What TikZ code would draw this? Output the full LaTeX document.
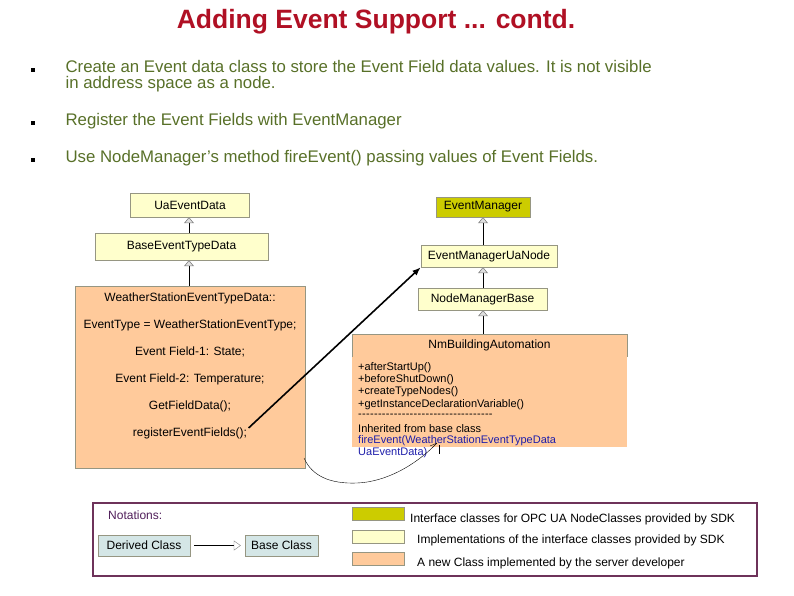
\documentclass[tikz,border=0pt]{standalone}
\usepackage{fontspec}
\setmainfont{Liberation Sans}
\usetikzlibrary{arrows.meta, positioning}
\definecolor{titlered}{RGB}{176,16,36}
\definecolor{bullettext}{RGB}{88,112,40}
\definecolor{sdkcolor}{RGB}{204,204,0}
\definecolor{implcolor}{RGB}{255,255,204}
\definecolor{devcolor}{RGB}{255,202,155}
\definecolor{notecolor}{RGB}{212,230,230}
\definecolor{boxborder}{RGB}{150,150,130}
\definecolor{legendborder}{RGB}{110,50,90}
\definecolor{notetext}{RGB}{80,30,90}
\definecolor{linkblue}{RGB}{30,30,170}
\tikzset{
    classbox/.style={rectangle, draw=boxborder, inner sep=0pt, font=\fontsize{12}{14}\selectfont},
    swatch/.style={rectangle, draw=boxborder, minimum width=52pt, minimum height=13pt, inner sep=0pt},
    bullet/.style={rectangle, fill=black, minimum size=4pt, inner sep=0pt},
    bullettxt/.style={anchor=west, align=left, text=bullettext, font=\fontsize{16.8}{16}\selectfont},
    fieldtxt/.style={font=\fontsize{12}{14}\selectfont},
    methodtxt/.style={anchor=west, inner sep=0pt, font=\fontsize{11}{12}\selectfont},
    legendtxt/.style={anchor=west, inner sep=0pt, font=\fontsize{12}{14}\selectfont},
    inherit/.style={-{Triangle[length=6pt, width=10pt, fill=gray!25, color=gray]}, semithick},
    arrow/.style={-{Latex[length=3mm]}, line width=1.6pt}
}
\newcommand{\dashes}{\foreach \i in {1,...,34}{-\kern0.3pt}}

\begin{document}
\begin{tikzpicture}[x=1pt, y=-1pt]
    \useasboundingbox (0,0) rectangle (794,595);

    % title and bullets
    \node[text=titlered, font=\fontsize{26.5}{28}\selectfont\bfseries] (title) at (376,22) {Adding Event Support ... contd.};

    \node[bullet] (b1) at (33,70) {};
    \node[bullettxt] (t1) at (62,76) {Create an Event data class to store the Event Field data values. It is not visible\\in address space as a node.};
    \node[bullet] (b2) at (33,123) {};
    \node[bullettxt] (t2) at (62,121) {Register the Event Fields with EventManager};
    \node[bullet] (b3) at (33,160) {};
    \node[bullettxt] (t3) at (62,158) {Use NodeManager's method fireEvent() passing values of Event Fields.};

    % event data classes
    \node[classbox, fill=implcolor, minimum width=119pt, minimum height=24pt] (uadata) at (190,205) {UaEventData};
    \node[classbox, fill=implcolor, minimum width=173pt, minimum height=27pt] (basedata) at (181.5,246.5) {BaseEventTypeData};
    \node[classbox, fill=devcolor, minimum width=230pt, minimum height=182pt] (wsdata) at (190,377) {};

    \node[fieldtxt] (wsname) at (190,298) {WeatherStationEventTypeData::};
    \node[fieldtxt] (wstype) at (190,325) {EventType = WeatherStationEventType;};
    \node[fieldtxt] (field1) at (190,352) {Event Field-1: State;};
    \node[fieldtxt] (field2) at (190,379) {Event Field-2: Temperature;};
    \node[fieldtxt] (getdata) at (190,406) {GetFieldData();};
    \node[fieldtxt] (regfields) at (190,433) {registerEventFields();};

    \draw[inherit] (wsdata.north -| 189,0) -- (basedata.south -| 189,0);
    \draw[inherit] (basedata.north -| 189,0) -- (uadata.south -| 189,0);

    % node manager classes
    \node[classbox, fill=sdkcolor, minimum width=94pt, minimum height=20pt] (evmgr) at (483,207) {EventManager};
    \node[classbox, fill=implcolor, minimum width=136pt, minimum height=22pt] (evmgrua) at (489,256) {EventManagerUaNode};
    \node[classbox, fill=implcolor, minimum width=129pt, minimum height=22pt] (nmbase) at (482.5,299) {NodeManagerBase};

    \fill[devcolor] (352,334) rectangle (627,447);
    \draw[boxborder] (352,357) -- (352,334) -- (627,334) -- (627,357);
    \node[fieldtxt] (nmba) at (489.5,345) {NmBuildingAutomation};
    \node[methodtxt] (m1) at (358,368) {+afterStartUp()};
    \node[methodtxt] (m2) at (358,380) {+beforeShutDown()};
    \node[methodtxt] (m3) at (358,392) {+createTypeNodes()};
    \node[methodtxt] (m4) at (358,405) {+getInstanceDeclarationVariable()};
    \node[methodtxt] (m5) at (358,416) {\dashes};
    \node[methodtxt] (m6) at (358,429) {Inherited from base class};
    \node[methodtxt, text=linkblue] (m7) at (358,441) {fireEvent(WeatherStationEventTypeData};
    \node[methodtxt, text=linkblue] (m8) at (358,453) {UaEventData)};

    \draw[inherit] (483,334) -- (nmbase.south -| 483,0);
    \draw[inherit] (nmbase.north -| 483,0) -- (evmgrua.south -| 483,0);
    \draw[inherit] (evmgrua.north -| 483,0) -- (evmgr.south);

    % register the fields with the event manager
    \draw[arrow] (regfields.east) ++(-2,-5) -- (evmgrua.south west);

    % hand drawn link to fireEvent
    \coordinate (doodle) at (304,458);
    \coordinate (fire) at (437,443);
    \draw[thin] (doodle) .. controls (312,476) and (330,484) .. (357,483)
        .. controls (385,482) and (415,466) .. (fire);
    \draw[thin] (fire) -- (430,446);
    \draw[thin] (439,445) -- (439,454);

    % notations
    \node[rectangle, draw=legendborder, line width=1.5pt, minimum width=664pt, minimum height=73pt] (legend) at (425,539.5) {};
    \node[legendtxt, text=notetext] (notations) at (108,515) {Notations:};
    \node[classbox, fill=notecolor, minimum width=92pt, minimum height=21pt] (derived) at (144,545.5) {Derived Class};
    \node[classbox, fill=notecolor, minimum width=73pt, minimum height=21pt] (baseclass) at (281.5,545.5) {Base Class};
    \draw[-{Triangle[open, length=7pt, width=10pt, color=gray]}] ([xshift=4pt]derived.east) -- ([xshift=-4pt]baseclass.west);

    \node[swatch, fill=sdkcolor] (sw1) at (378,513.5) {};
    \node[swatch, fill=implcolor] (sw2) at (378,536.5) {};
    \node[swatch, fill=devcolor] (sw3) at (378,558.5) {};
    \node[legendtxt] (l1) at (410,519) {Interface classes for OPC UA NodeClasses provided by SDK};
    \node[legendtxt] (l2) at (417,540) {Implementations of the interface classes provided by SDK};
    \node[legendtxt] (l3) at (417,563) {A new Class implemented by the server developer};
\end{tikzpicture}
\end{document}
